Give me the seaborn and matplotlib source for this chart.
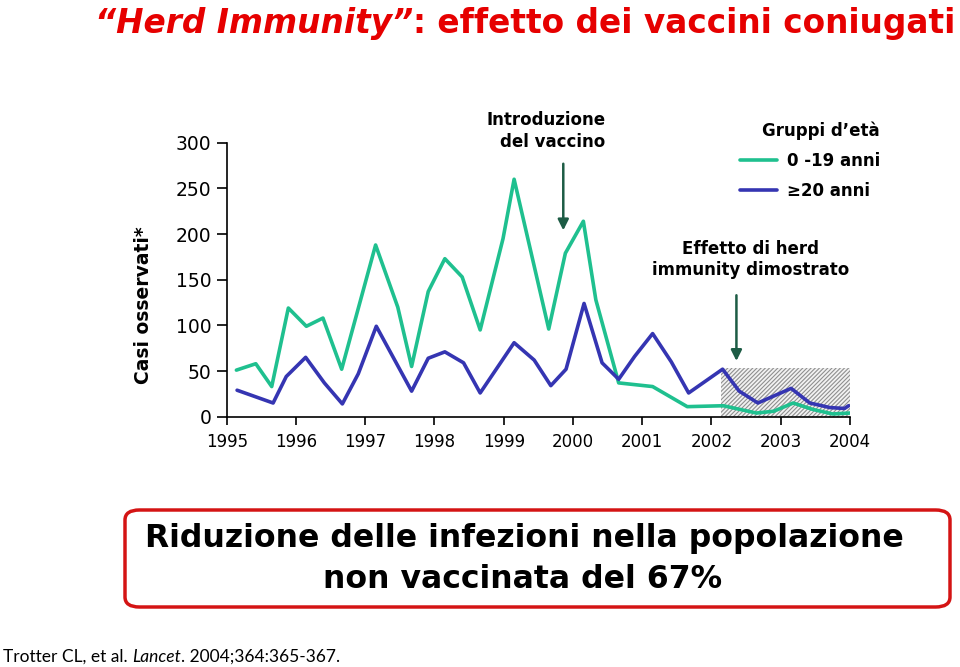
import numpy as np
import pandas as pd
import matplotlib
matplotlib.use("Agg")
import matplotlib.pyplot as plt
import seaborn as sns
from matplotlib.patches import FancyBboxPatch

# ---------------- data ----------------
years_young = [1995.14, 1995.42, 1995.65, 1995.89, 1996.15, 1996.39, 1996.66,
               1997.15, 1997.47, 1997.67, 1997.91, 1998.15, 1998.40, 1998.66,
               1998.99, 1999.15, 1999.65, 1999.89, 2000.15, 2000.33, 2000.66,
               2001.15, 2001.65, 2002.17, 2002.65, 2002.90, 2003.18, 2003.46,
               2003.75, 2004.00]
cases_young = [51, 58, 33, 119, 99, 108, 52,
               188, 120, 55, 137, 173, 153, 95,
               195, 260, 96, 179, 214, 128, 37,
               33, 11, 12, 4, 6, 15, 8,
               3, 4]

years_adult = [1995.15, 1995.67, 1995.86, 1996.14, 1996.41, 1996.67, 1996.90,
               1997.16, 1997.67, 1997.91, 1998.15, 1998.42, 1998.66, 1999.15,
               1999.44, 1999.68, 1999.90, 2000.16, 2000.42, 2000.66, 2000.89,
               2001.15, 2001.42, 2001.67, 2002.16, 2002.40, 2002.67, 2003.15,
               2003.42, 2003.71, 2003.92, 2003.98]
cases_adult = [29, 15, 44, 65, 37, 14, 47,
               99, 28, 64, 71, 59, 26, 81,
               62, 34, 52, 124, 59, 41, 66,
               91, 60, 26, 52, 28, 15, 31,
               15, 10, 9, 12]

group_labels = ["0 -19 anni", "\u226520 anni"]
group_colors = ["#1fc08f", "#3535b2"]
year_ticks = list(range(1995, 2005))
case_ticks = [0, 50, 100, 150, 200, 250, 300]

vaccine_intro_year = 1999.86
herd_start, herd_end, herd_level = 2002.14, 2004.0, 53
herd_arrow_year = 2002.36

title_part1 = "\u201cHerd Immunity\u201d"
title_part2 = ": effetto dei vaccini coniugati"
box_line1 = "Riduzione delle infezioni nella popolazione"
box_line2 = "non vaccinata del 67%"
cite_parts = [("Trotter CL, et al. ", "normal"), ("Lancet", "italic"),
              (". 2004;364:365-367.", "normal")]

# ---------------- style ----------------
sns.set_style("ticks")
plt.rcParams["font.family"] = ["DejaVu Sans"]
plt.rcParams["text.color"] = "black"
plt.rcParams["axes.labelcolor"] = "black"
plt.rcParams["xtick.color"] = "black"
plt.rcParams["ytick.color"] = "black"
plt.rcParams["hatch.linewidth"] = 0.8

W, H = 960, 667
fig = plt.figure(figsize=(W / 100, H / 100), dpi=100)
ax = fig.add_axes([226.7 / W, 1 - 416.7 / H, 623.3 / W, 274.0 / H])

df = pd.concat([
    pd.DataFrame({"anno": years_young, "casi": cases_young, "gruppo": group_labels[0]}),
    pd.DataFrame({"anno": years_adult, "casi": cases_adult, "gruppo": group_labels[1]}),
], ignore_index=True)

# hatched "herd immunity" region
ax.fill_between([herd_start, herd_end], 0, herd_level, facecolor="#f2f2f2",
                edgecolor="#8f8f8f", hatch="////////", linewidth=0, zorder=1)

sns.lineplot(data=df, x="anno", y="casi", hue="gruppo",
             palette=dict(zip(group_labels, group_colors)),
             linewidth=2.6, sort=False, estimator=None, ax=ax, zorder=3)

ax.set_xlim(1995, 2004)
ax.set_ylim(0, 300)
ax.set_xticks(year_ticks)
ax.set_yticks(case_ticks)
ax.set_xlabel("")
ax.set_ylabel("Casi osservati*", fontsize=13.5, fontweight="bold", color="black")
ax.yaxis.set_label_coords(-0.118, 0.408)
sns.despine(ax=ax)
for s in ("left", "bottom"):
    ax.spines[s].set_linewidth(1.2)
    ax.spines[s].set_color("black")
ax.tick_params(axis="y", length=7, width=1.2, labelsize=13.5, pad=4, colors="black")
ax.tick_params(axis="x", length=6, width=1.2, labelsize=12, pad=6, colors="black")

# legend
leg = ax.get_legend()
handles = leg.legend_handles
labels = [t.get_text() for t in leg.get_texts()]
leg.remove()
new_leg = ax.legend(handles, labels, loc="upper right",
                    bbox_to_anchor=(880 / W, 1 - 122 / H), bbox_transform=fig.transFigure,
                    frameon=False, title="Gruppi d\u2019et\u00e0", alignment="right",
                    prop={"weight": "bold", "size": 12},
                    title_fontproperties={"weight": "bold", "size": 12},
                    handlelength=2.2, handletextpad=0.6, labelspacing=0.7,
                    borderpad=0, borderaxespad=0)
for h in new_leg.legend_handles:
    h.set_linewidth(2.6)
for t in new_leg.get_texts():
    t.set_color("black")
new_leg.get_title().set_color("black")

# annotations
arrow_color = "#1d5c45"
ax.annotate("", xy=(vaccine_intro_year, 201), xytext=(vaccine_intro_year, 280),
            arrowprops=dict(arrowstyle="-|>", color=arrow_color, lw=1.8, mutation_scale=16),
            annotation_clip=False)
ax.text(2000.47, 313, "Introduzione\ndel vaccino", ha="right", va="center",
        multialignment="right", fontsize=12, fontweight="bold", linespacing=1.25,
        clip_on=False, color="black")
ax.annotate("", xy=(herd_arrow_year, 58), xytext=(herd_arrow_year, 136),
            arrowprops=dict(arrowstyle="-|>", color=arrow_color, lw=1.8, mutation_scale=16),
            annotation_clip=False)
ax.text(2002.57, 172, "Effetto di herd\nimmunity dimostrato", ha="center", va="center",
        multialignment="center", fontsize=12, fontweight="bold", linespacing=1.25,
        color="black")

renderer = fig.canvas.get_renderer()

def width_px(t):
    return t.get_window_extent(renderer).width

# title (two pieces, fitted to reference width)
red = "#e60000"
t1 = fig.text(95 / W, 1 - 33 / H, title_part1, fontsize=20, fontweight="bold",
              style="italic", color=red, va="baseline", ha="left")
t2 = fig.text(0, 1 - 33 / H, title_part2, fontsize=20, fontweight="bold",
              color=red, va="baseline", ha="left")
total = width_px(t1) + width_px(t2)
size = 20 * 860 / total
t1.set_fontsize(size)
t2.set_fontsize(size)
t2.set_x((95 + width_px(t1)) / W)

# red rounded box with conclusion
box = FancyBboxPatch((125 / W, 1 - 607 / H), 825 / W, 97 / H,
                     boxstyle="round,pad=0,rounding_size=0.015",
                     transform=fig.transFigure, facecolor="white",
                     edgecolor="#d41414", linewidth=2.5, zorder=0)
fig.patches.append(box)
b1 = fig.text(524 / W, 1 - 538 / H, box_line1, fontsize=20, fontweight="bold",
              ha="center", va="center", color="black")
bsize = 20 * 762 / width_px(b1)
b1.set_fontsize(bsize)
b2 = fig.text(523 / W, 1 - 580 / H, box_line2, fontsize=bsize, fontweight="bold",
              ha="center", va="center", color="black")

# citation
cx = 3.0
cite_objs = []
for txt, st in cite_parts:
    c = fig.text(cx / W, 1 - 662 / H, txt, fontsize=12, style=st, family="Lato",
                 va="baseline", ha="left", color="black")
    cite_objs.append(c)
    cx += width_px(c)
scale = 334 / (cx - 3.0)
cx = 3.0
for c in cite_objs:
    c.set_fontsize(12 * scale)
    c.set_x(cx / W)
    cx += width_px(c)

fig.savefig("out.png", dpi=100)
